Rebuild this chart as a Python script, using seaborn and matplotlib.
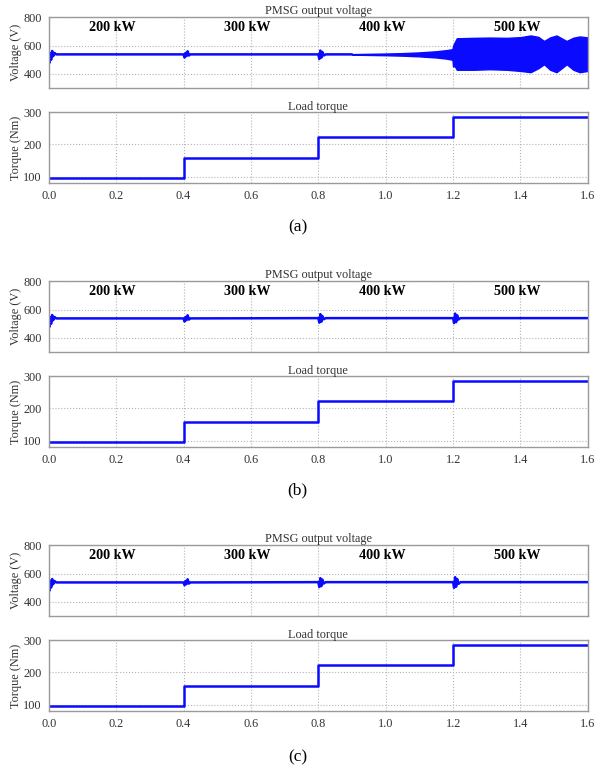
import numpy as np
import matplotlib
matplotlib.use("Agg")
import matplotlib.pyplot as plt
import seaborn as sns

sns.set_theme(style='white', context='paper')
plt.rcParams['font.family'] = ['Liberation Serif', 'DejaVu Serif']

# Load torque steps (Nm), same in all three cases
torque_t = [0.0, 0.4, 0.8, 1.2, 1.6]
torque_nm = [95, 158, 222, 287, 287]

load_labels = ['200 kW', '300 kW', '400 kW', '500 kW']
load_label_t = [0.19, 0.59, 0.99, 1.39]

# PMSG output voltage (V), traced points incl. the switching transients
volt_t_a = [0.000, 0.002, 0.004, 0.007, 0.010, 0.013, 0.017, 0.022,
            0.400, 0.403, 0.406, 0.409, 0.412, 0.416, 0.420,
            0.800, 0.803, 0.806, 0.809, 0.812, 0.816, 0.822, 0.900]
volt_v_a = [530, 478, 548, 500, 562, 525, 548, 538,
            538, 516, 548, 526, 560, 530, 538,
            538, 505, 565, 515, 555, 530, 538, 538]

volt_t_b = [0.000, 0.002, 0.004, 0.007, 0.010, 0.013, 0.017, 0.022,
            0.400, 0.403, 0.406, 0.409, 0.412, 0.416, 0.420,
            0.800, 0.803, 0.806, 0.809, 0.812, 0.816, 0.822,
            1.200, 1.203, 1.206, 1.209, 1.212, 1.216, 1.222, 1.600]
volt_v_b = [530, 478, 548, 500, 562, 525, 548, 538,
            538, 516, 548, 526, 560, 530, 538,
            540, 508, 568, 515, 555, 532, 540,
            540, 505, 572, 512, 560, 530, 540, 540]

volt_t_c = [0.000, 0.002, 0.004, 0.007, 0.010, 0.013, 0.017, 0.022,
            0.400, 0.403, 0.406, 0.409, 0.412, 0.416, 0.420,
            0.800, 0.803, 0.806, 0.809, 0.812, 0.816, 0.822,
            1.200, 1.203, 1.206, 1.209, 1.212, 1.216, 1.222, 1.600]
volt_v_c = [530, 480, 550, 502, 562, 525, 548, 538,
            538, 518, 548, 526, 560, 530, 538,
            540, 505, 568, 512, 558, 530, 540,
            540, 500, 575, 508, 562, 528, 540, 540]

# case (a): oscillation envelope from 0.9 s on (upper / lower, V)
env_t_a = [0.900, 1.000, 1.050, 1.100, 1.150, 1.180, 1.198, 1.200, 1.205,
           1.211, 1.260, 1.310, 1.360, 1.400, 1.430, 1.453, 1.470, 1.488,
           1.507, 1.525, 1.537, 1.557, 1.576, 1.600]
env_up_a = [540, 544, 547, 552, 560, 568, 575, 600, 625,
            652, 655, 657, 655, 660, 672, 662, 633, 658,
            672, 648, 633, 656, 665, 658]
env_lo_a = [536, 532, 529, 524, 516, 508, 500, 452, 455,
            429, 429, 433, 429, 421, 412, 440, 468, 429,
            412, 445, 468, 429, 412, 421]

cases = [
    dict(t=volt_t_a, v=volt_v_a, env=(env_t_a, env_up_a, env_lo_a),
         vb=0.886, tb=0.763, cap=0.706, name='(a)'),
    dict(t=volt_t_b, v=volt_v_b, env=None, vb=0.544, tb=0.421, cap=0.365, name='(b)'),
    dict(t=volt_t_c, v=volt_v_c, env=None, vb=0.202, tb=0.079, cap=0.019, name='(c)'),
]

BLUE = '#0a0aff'
SPINE = '#9a9a9a'
TXT = '#333333'
FS = 8.8

fig = plt.figure(figsize=(5.95, 7.72), dpi=100)
left, width, h = 0.082, 0.906, 0.0915


def style_axes(ax, ymin, ymax, yticks, xlabels):
    ax.set_xlim(0, 1.6)
    ax.set_ylim(ymin, ymax)
    ax.set_xticks(np.arange(0, 1.61, 0.2))
    ax.set_yticks(yticks)
    ax.grid(True, linestyle=':', color='#b5b5b5', linewidth=0.8)
    for s in ax.spines.values():
        s.set_color(SPINE)
        s.set_linewidth(1.0)
    ax.tick_params(axis='both', colors=SPINE, labelcolor=TXT, labelsize=FS,
                   length=3, width=0.8, pad=2, direction='out')
    if xlabels:
        ax.set_xticklabels([f'{x:.1f}' for x in np.arange(0, 1.61, 0.2)])
    else:
        ax.tick_params(axis='x', length=0, labelbottom=False)
    ax.set_xlabel('')


for c in cases:
    axv = fig.add_axes([left, c['vb'], width, h])
    sns.lineplot(x=c['t'], y=c['v'], ax=axv, color=BLUE, linewidth=1.8,
                 estimator=None, sort=False)
    if c['env'] is not None:
        et, eu, el = c['env']
        axv.fill_between(et, el, eu, color=BLUE, linewidth=1.0, edgecolor=BLUE)
    style_axes(axv, 300, 800, [400, 600, 800], False)
    axv.set_ylabel('Voltage (V)', fontsize=FS, color=TXT, labelpad=1)
    axv.set_title('PMSG output voltage', fontsize=FS, color=TXT, pad=2)
    for lab, lt in zip(load_labels, load_label_t):
        axv.text(lt, 730, lab, ha='center', va='center', fontsize=10.2,
                 fontweight='bold', color='black')

    axt = fig.add_axes([left, c['tb'], width, h])
    sns.lineplot(x=torque_t, y=torque_nm, ax=axt, color=BLUE, linewidth=1.8,
                 drawstyle='steps-post', estimator=None)
    style_axes(axt, 80, 300, [100, 200, 300], True)
    axt.set_ylabel('Torque (Nm)', fontsize=FS, color=TXT, labelpad=1)
    axt.set_title('Load torque', fontsize=FS, color=TXT, pad=2)

    fig.text(0.5, c['cap'], c['name'], ha='center', va='center', fontsize=12.5,
             color='black')

fig.savefig('out.png', dpi=100)
